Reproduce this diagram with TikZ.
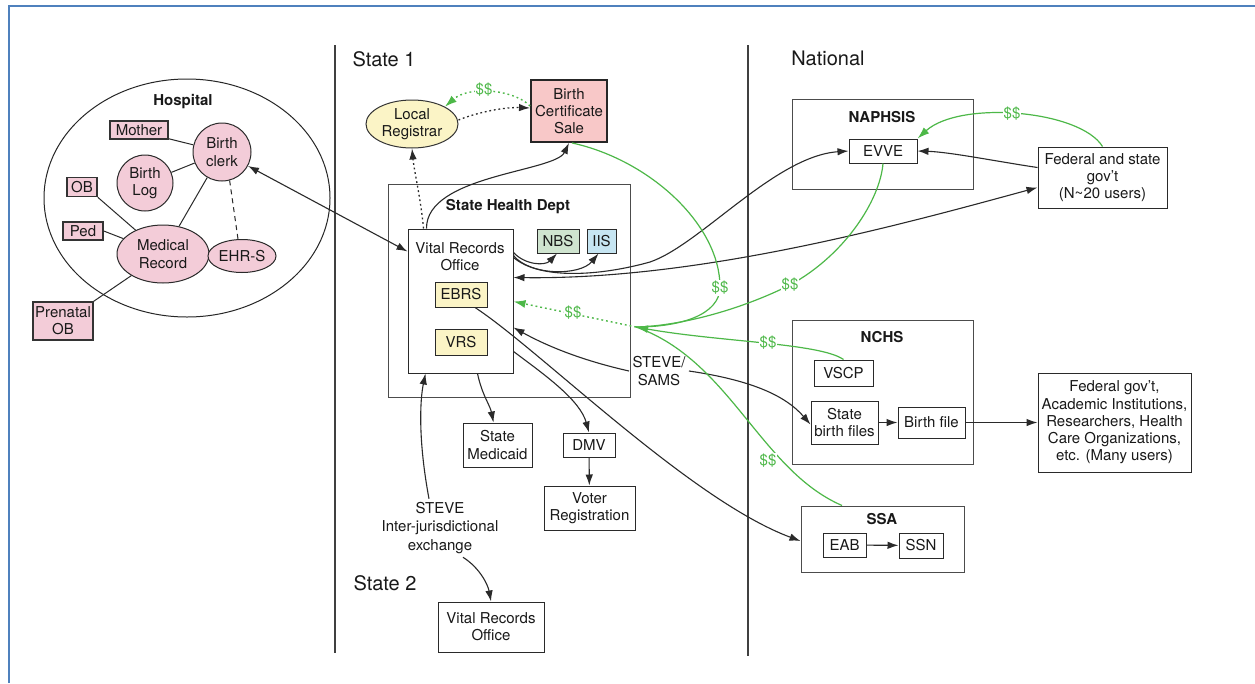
\documentclass[tikz,border=0pt]{standalone}
\usepackage{fontspec}
\setmainfont{TeX Gyre Heros}
\usetikzlibrary{arrows.meta,calc,shapes.geometric}
\definecolor{frameblue}{HTML}{4F81BD}
\definecolor{linec}{HTML}{2A2A2A}
\definecolor{hpink}{HTML}{F3CCD8}
\definecolor{spink}{HTML}{F8C8C8}
\definecolor{lyel}{HTML}{FBF4C6}
\definecolor{lgreen}{HTML}{CFE4CF}
\definecolor{lblue}{HTML}{C6E5F2}
\definecolor{mgreen}{HTML}{4DB848}
\newcommand{\fsz}{\fontsize{15}{17.3}\selectfont}
\newcommand{\bsz}{\fontsize{15}{17}\selectfont\bfseries}
\newcommand{\tsz}{\fontsize{20}{22}\selectfont}
\begin{document}
\begin{tikzpicture}[x=1pt,y=-1pt,
  every node/.style={font=\fsz, text=black!90},
  box/.style={draw=linec, line width=1pt, fill=white, align=center, inner sep=0pt},
  hbox/.style={box, fill=hpink, line width=1.5pt, draw=black!80},
  hcirc/.style={draw=linec, line width=1pt, fill=hpink, align=center, inner sep=0pt},
  group/.style={draw=black!70, line width=1pt},
  ln/.style={draw=linec, line width=1pt},
  arr/.style={draw=linec, line width=1.1pt, -{Latex[length=11pt,width=7.5pt]}},
  darr/.style={draw=linec, line width=1.1pt, {Latex[length=11pt,width=7.5pt]}-{Latex[length=11pt,width=7.5pt]}},
  dotarr/.style={arr, dash pattern=on 1.8pt off 2.8pt, line width=1.3pt},
  gln/.style={draw=mgreen, line width=1.2pt},
  garr/.style={gln, -{Latex[length=12pt,width=8pt]}},
  gdot/.style={garr, dash pattern=on 1.8pt off 3pt, line width=1.4pt},
  dollar/.style={text=mgreen, fill=white, inner sep=1pt, font=\fsz},
  title/.style={font=\tsz}
  ]
\useasboundingbox (0,0) rectangle (1255,683);
\fill[white] (0,0) rectangle (1255,683);
\draw[frameblue, line width=2pt] (9,683) -- (9,6) -- (1255,6);

% dividers
\draw[draw=black!75, line width=1.4pt] (335,45) -- (335,653);
\draw[draw=black!75, line width=1.4pt] (748,45) -- (748,656);
\node[title] (state1) at (384,59) {State 1};
\node[title] (state2) at (385,583) {State 2};
\node[title] (national) at (828,58) {National};

% ---------------- Hospital ----------------
\node[draw=black!85, line width=1pt, ellipse, minimum width=286pt, minimum height=238pt] (hospital) at (187,198) {};
\node[font=\bsz] (hosplabel) at (183,102) {Hospital};
\node[hbox, minimum width=58pt, minimum height=18pt] (mother) at (139,130) {Mother};
\node[hcirc, circle, minimum size=58pt] (clerk) at (222,152) {Birth\\clerk};
\node[hcirc, circle, minimum size=56pt] (blog) at (145,183) {Birth\\Log};
\node[hbox, minimum width=30pt, minimum height=19pt] (ob) at (82,187) {OB};
\node[hbox, minimum width=40pt, minimum height=18pt] (ped) at (83,231) {Ped};
\node[hcirc, ellipse, minimum width=92pt, minimum height=58pt] (medrec) at (163,254) {Medical\\Record};
\node[hcirc, ellipse, minimum width=68pt, minimum height=33pt] (ehrs) at (242,256) {EHR-S};
\node[hbox, minimum width=60pt, minimum height=38pt] (prenatal) at (63,321) {Prenatal\\OB};

\draw[ln] ([yshift=1pt]mother.south east) -- (clerk);
\draw[ln] (blog) -- (clerk);
\draw[ln] (clerk) -- (medrec);
\draw[ln, dash pattern=on 5pt off 4pt] (clerk.-75) -- ([xshift=-4pt]ehrs.north);
\draw[ln] (ob.south east) -- (medrec);
\draw[ln] (ped.east) -- (medrec);
\draw[ln] (medrec) -- (prenatal.north east);

% ---------------- State 1 ----------------
\node[group, minimum width=242pt, minimum height=213pt] (shd) at (509,290.5) {};
\node[font=\bsz] (shdlabel) at (508,207) {State Health Dept};
\node[box, minimum width=105pt, minimum height=144pt] (vro) at (460.5,301) {};
\node[align=center] (vrolabel) at (460,257) {Vital Records\\Office};
\node[box, fill=lyel, minimum width=52pt, minimum height=25pt] (ebrs) at (461,294.5) {EBRS};
\node[box, fill=lyel, minimum width=52pt, minimum height=26pt] (vrs) at (461,342) {VRS};
\node[box, fill=lgreen, minimum width=42pt, minimum height=24pt] (nbs) at (558,241) {NBS};
\node[box, fill=lblue, minimum width=29pt, minimum height=24pt] (iis) at (601.5,241) {IIS};
\node[draw=black!80, line width=1pt, fill=lyel, ellipse, minimum width=92pt, minimum height=48pt, align=center, inner sep=-2pt] (lreg) at (412,124) {Local\\Registrar};
\node[box, fill=spink, line width=1.9pt, draw=black!85, minimum width=76pt, minimum height=62pt] (bcs) at (569,111) {Birth\\Certificate\\Sale};
\node[box, minimum width=69pt, minimum height=44pt] (medicaid) at (497.5,445) {State\\Medicaid};
\node[box, minimum width=52pt, minimum height=24pt] (dmv) at (589,445) {DMV};
\node[box, minimum width=91pt, minimum height=44pt] (voter) at (589.5,508) {Voter\\Registration};
\node[box, minimum width=106pt, minimum height=50pt] (vro2) at (491,627) {Vital Records\\Office};
\node[align=center, font=\fontsize{15}{18.5}\selectfont] (stevex) at (440,528) {STEVE\\Inter-jurisdictional\\exchange};
\node[align=center] (stevesams) at (659,371) {STEVE/\\SAMS};

% ---------------- National ----------------
\node[group, minimum width=181pt, minimum height=90pt] (naphsis) at (882.5,144) {};
\node[font=\bsz] (naphsislabel) at (882,117) {NAPHSIS};
\node[box, minimum width=68pt, minimum height=24pt] (evve) at (883,151) {EVVE};
\node[box, minimum width=129pt, minimum height=61pt] (fed) at (1102.5,177.5) {Federal and state\\gov't\\(N\textasciitilde 20 users)};
\node[group, minimum width=181pt, minimum height=144pt] (nchs) at (882.5,392) {};
\node[font=\bsz] (nchslabel) at (882,337) {NCHS};
\node[box, minimum width=59pt, minimum height=26pt] (vscp) at (843.5,373) {VSCP};
\node[box, minimum width=67pt, minimum height=43pt] (sbf) at (844.5,422.5) {State\\birth files};
\node[box, minimum width=67pt, minimum height=31pt] (bfile) at (931.5,422.5) {Birth file};
\node[box, minimum width=153pt, minimum height=99pt] (many) at (1114.5,422.5) {Federal gov't,\\Academic Institutions,\\Researchers, Health\\Care Organizations,\\etc. (Many users)};
\node[group, minimum width=163pt, minimum height=66pt] (ssa) at (882.5,539) {};
\node[font=\bsz] (ssalabel) at (882,519) {SSA};
\node[box, minimum width=43pt, minimum height=24pt] (eab) at (844.5,545) {EAB};
\node[box, minimum width=44pt, minimum height=25pt] (ssn) at (921,545.5) {SSN};

% coordinates on the Vital Records Office edge
\coordinate (vA) at ($(vro.north east)+(0,24)$);
\coordinate (vB) at ($(vro.north east)+(0,27)$);
\coordinate (vC) at ($(vro.north east)+(0,29)$);
\coordinate (vD) at ($(vro.north east)+(0,49)$);
\coordinate (vE) at ($(vro.north east)+(0,73)$);
\coordinate (vF) at ($(vro.north east)+(0,99)$);
\coordinate (vG) at ($(vro.north east)+(0,123)$);
\coordinate (vIn) at ($(vro.north west)+(0,23)$);
\coordinate (hub) at (636,327);

% ---------------- black connectors ----------------
\draw[darr] (clerk) -- (vIn);
\draw[dotarr] ([xshift=-37pt]vro.north) .. controls (421,200) and (414,170) .. (lreg.south);
\draw[arr] ([xshift=-34pt]vro.north) .. controls (426,175) and (555,172) .. (bcs.south);
\draw[dotarr] ([yshift=4pt]lreg.east) .. controls (478,112) and (505,107) .. ([yshift=3pt]bcs.west);
\draw[arr] (vA) .. controls (525,265) and (545,266) .. ([xshift=-1pt]nbs.south);
\draw[arr] (vB) .. controls (530,276) and (580,276) .. ([xshift=-3pt]iis.south);
\draw[arr] (vC) .. controls (540,280) and (600,276) .. (650,262) .. controls (700,245) and (775,156) .. (evve.west);
\draw[darr] (vD) .. controls (700,280) and (900,225) .. ([yshift=-10pt]fed.west);
\draw[arr] ([yshift=10pt]fed.west) .. controls (1000,162) and (950,152) .. (evve.east);
\draw[arr] (stevesams.west) .. controls (580,360) and (545,345) .. (vF);
\draw[arr] (stevesams.east) .. controls (750,380) and (785,395) .. ([yshift=-2pt]sbf.west);
\draw[arr] ([xshift=14pt]ebrs.south) .. controls (540,350) and (690,500) .. ([yshift=-2pt]ssa.west);
\draw[arr] (vG) .. controls (545,375) and (580,400) .. (dmv.north);
\draw[arr] ([xshift=17pt]vro.south) .. controls (482,395) and (490,405) .. ([xshift=-4pt]medicaid.north);
\draw[arr] (dmv) -- (voter);
\draw[arr] ([xshift=-11pt]stevex.north) .. controls (418,440) and (420,400) .. ([xshift=-35pt]vro.south);
\draw[arr] ([xshift=23pt]stevex.south) .. controls (480,568) and (488,585) .. (vro2.north);
\draw[arr] (sbf) -- (bfile);
\draw[arr] (bfile) -- (many);
\draw[arr] (eab) -- (ssn);

% ---------------- green connectors ----------------
\draw[gdot] ([yshift=5pt]bcs.west) .. controls (515,90) and (470,85) .. (lreg.north east);
\draw[garr] (fed.north) .. controls (1080,110) and (960,100) .. (evve.north east);
\draw[gln] ([xshift=3pt]bcs.south) .. controls (650,160) and (720,225) .. (720,287) .. controls (720,315) and (680,327) .. (hub);
\draw[gln] (evve.south) .. controls (880,200) and (845,255) .. (790,285) .. controls (740,310) and (680,326) .. (hub);
\draw[gln] ([xshift=-40.5pt]ssa.north) .. controls (760,470) and (730,360) .. (hub);
\draw[garr] (vscp.north) .. controls (820,343) and (720,342) .. (hub);
\draw[gdot] (hub) -- (vE);

\node[dollar] (d1) at (484,90) {\$\$};
\node[dollar] (d2) at (1012,114) {\$\$};
\node[dollar] (d3) at (720,288) {\$\$};
\node[dollar] (d4) at (790,285) {\$\$};
\node[dollar] (d5) at (768,343) {\$\$};
\node[dollar] (d6) at (768,461) {\$\$};
\node[dollar] (d7) at (573,313) {\$\$};
\end{tikzpicture}
\end{document}
